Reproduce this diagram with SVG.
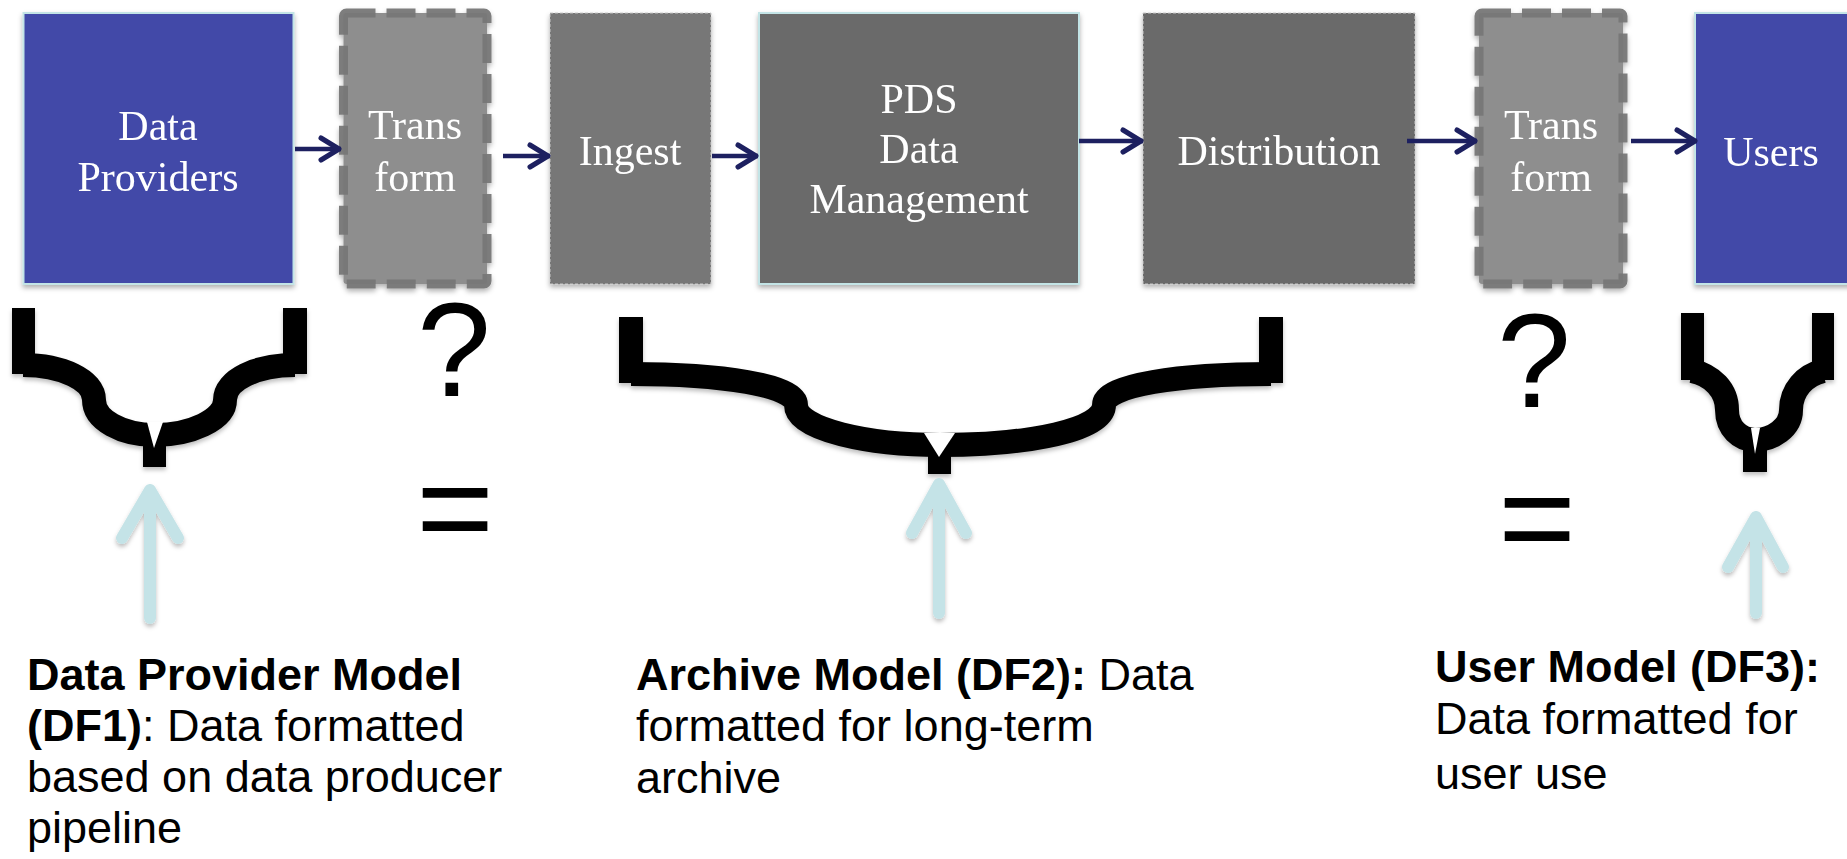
<svg xmlns="http://www.w3.org/2000/svg" width="1847" height="859" viewBox="0 0 1847 859">
<defs>
<filter id="sh" x="-15%" y="-15%" width="130%" height="135%"><feDropShadow dx="0" dy="3" stdDeviation="2.5" flood-color="#000" flood-opacity="0.3"/></filter>
<filter id="sh2" x="-15%" y="-15%" width="130%" height="135%"><feDropShadow dx="0" dy="3" stdDeviation="2" flood-color="#000" flood-opacity="0.25"/></filter>
<marker id="ah" markerUnits="userSpaceOnUse" viewBox="-26 -15 30 30" refX="0" refY="0" markerWidth="30" markerHeight="30" orient="auto" overflow="visible">
<path d="M-20,-11 L-2,0 L-20,11" fill="none" stroke="#1d2060" stroke-width="5" stroke-linecap="round" stroke-linejoin="round"/>
</marker>
<style>
.node-t{font-family:"Liberation Serif","Times New Roman",serif;font-size:42px;fill:#fff;text-anchor:middle}
.blue{fill:#4249a8;stroke:#c3e4e6;stroke-width:2}
.dark{fill:#6a6a6a;stroke:#c3e4e6;stroke-width:2}
.dash-thin{stroke:#c8c8c8;stroke-width:1;stroke-dasharray:3 2}
.tf{fill:#8e8e8e;stroke:#777;stroke-opacity:0.95;stroke-width:9;stroke-dasharray:29 11}
.conn{stroke:#1d2060;stroke-width:4.5;fill:none}
.up{stroke:#c4e3e7;stroke-width:12;fill:none;stroke-linecap:round;stroke-linejoin:round}
.brace{fill:none;stroke:#000;stroke-width:24}
.sym{font-family:"Liberation Sans",Arial,sans-serif;font-size:133px;fill:#000;text-anchor:middle}
.desc{font-family:"Liberation Sans",Arial,sans-serif;font-size:45px;fill:#000}
.b{font-weight:bold}
</style>
</defs>

<g id="data-providers" filter="url(#sh)">
<rect class="blue" x="23.5" y="13" width="270" height="271"/>
<text class="node-t" x="158" y="140">Data</text>
<text class="node-t" x="158" y="191">Providers</text>
</g>

<g id="transform-1" filter="url(#sh)">
<rect class="tf" x="343.5" y="13" width="143.5" height="271" rx="3"/>
<text class="node-t" x="415" y="139">Trans</text>
<text class="node-t" x="415" y="191">form</text>
</g>

<g id="ingest" filter="url(#sh)">
<rect class="dash-thin" fill="#777777" x="550" y="13" width="161" height="271"/>
<text class="node-t" x="630" y="165">Ingest</text>
</g>

<g id="pds-data-management" filter="url(#sh)">
<rect class="dark" x="759" y="13" width="320" height="271"/>
<text class="node-t" x="919" y="113">PDS</text>
<text class="node-t" x="919" y="163">Data</text>
<text class="node-t" x="919" y="213">Management</text>
</g>

<g id="distribution" filter="url(#sh)">
<rect class="dash-thin" fill="#6a6a6a" x="1143" y="13" width="272" height="271"/>
<text class="node-t" x="1279" y="165">Distribution</text>
</g>

<g id="transform-2" filter="url(#sh)">
<rect class="tf" x="1479" y="13" width="144" height="271" rx="3"/>
<text class="node-t" x="1551" y="139">Trans</text>
<text class="node-t" x="1551" y="191">form</text>
</g>

<g id="users" filter="url(#sh)">
<rect class="blue" x="1695" y="13" width="170" height="271"/>
<text class="node-t" x="1771" y="166">Users</text>
</g>

<g id="connectors">
<path class="conn" d="M295,149 H341" marker-end="url(#ah)"/>
<path class="conn" d="M503,156 H550" marker-end="url(#ah)"/>
<path class="conn" d="M712,156 H758" marker-end="url(#ah)"/>
<path class="conn" d="M1079,141 H1143" marker-end="url(#ah)"/>
<path class="conn" d="M1407,141 H1477" marker-end="url(#ah)"/>
<path class="conn" d="M1631,141 H1697" marker-end="url(#ah)"/>
</g>

<g id="brace-df1" filter="url(#sh2)">
<rect x="12" y="308" width="23" height="66" fill="#000"/>
<rect x="283" y="308" width="24" height="66" fill="#000"/>
<path class="brace" d="M23,365 C62,365 94,380 94,400 C94,420 122,435 155,435 C190,435 225,420 225,400 C225,380 256,365 295,365"/>
<rect x="143" y="430" width="23" height="37" fill="#000"/>
<polygon points="147,422 163,422 154,448" fill="#fff"/>
</g>

<g id="brace-df2" filter="url(#sh2)">
<rect x="619" y="317" width="24" height="66" fill="#000"/>
<rect x="1259" y="317" width="24" height="66" fill="#000"/>
<path class="brace" d="M631,374 C720,374 796,385 796,405 C796,430 870,445 940,445 C1030,445 1104,430 1104,405 C1104,385 1180,374 1271,374"/>
<rect x="928" y="440" width="23" height="34" fill="#000"/>
<polygon points="924,433 955,433 939,457" fill="#fff"/>
</g>

<g id="brace-df3" filter="url(#sh2)">
<rect x="1681" y="313" width="23" height="67" fill="#000"/>
<rect x="1812" y="313" width="22" height="67" fill="#000"/>
<path class="brace" d="M1692,371 C1712,375 1727,390 1727,410 C1727,428 1740,440 1755,440 C1772,440 1791,428 1791,410 C1791,390 1805,375 1823,371"/>
<rect x="1743" y="440" width="24" height="32" fill="#000"/>
<polygon points="1751,428 1760,428 1755,454" fill="#fff"/>
</g>

<g id="symbols">
<text class="sym" x="454" y="396">?</text>
<text class="sym" x="455" y="553">=</text>
<text class="sym" x="1534" y="407">?</text>
<text class="sym" x="1537" y="563">=</text>
</g>

<g id="pointer-arrows" filter="url(#sh2)">
<path class="up" d="M150,618 V490 M122,538 L150,490 L178,538"/>
<path class="up" d="M939,613 V484 M912,533 L939,484 L966,533"/>
<path class="up" d="M1756,613 V517 M1728,567 L1756,517 L1783,567"/>
</g>

<g id="label-df1">
<text class="desc" x="27" y="690"><tspan class="b">Data Provider Model</tspan></text>
<text class="desc" x="27" y="741"><tspan class="b">(DF1)</tspan>: Data formatted</text>
<text class="desc" x="27" y="792">based on data producer</text>
<text class="desc" x="27" y="843">pipeline</text>
</g>

<g id="label-df2">
<text class="desc" x="636" y="690"><tspan class="b">Archive Model (DF2):</tspan> Data</text>
<text class="desc" x="636" y="741">formatted for long-term</text>
<text class="desc" x="636" y="793">archive</text>
</g>

<g id="label-df3">
<text class="desc" x="1435" y="682"><tspan class="b">User Model (DF3):</tspan></text>
<text class="desc" x="1435" y="734">Data formatted for</text>
<text class="desc" x="1435" y="789">user use</text>
</g>
</svg>
